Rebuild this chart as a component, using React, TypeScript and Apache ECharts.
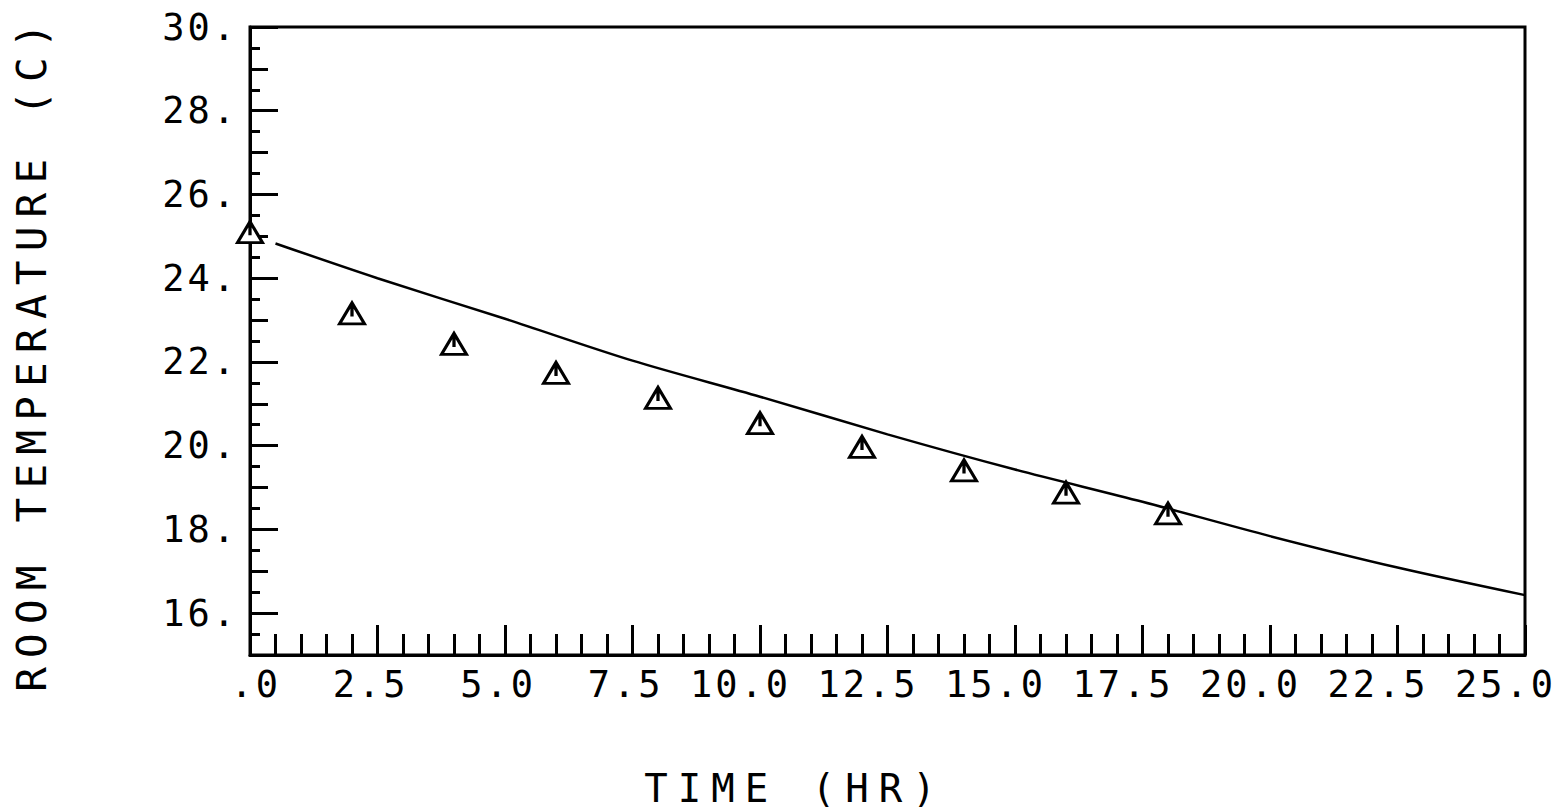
import React, { useEffect, useRef } from "react";
import * as echarts from "echarts";

// Observed data (triangles)
const obsTime = [0, 2, 4, 6, 8, 10, 12, 14, 16, 18];
const obsTemp = [25.1, 23.16, 22.43, 21.74, 21.14, 20.54, 19.97, 19.41, 18.88, 18.38];

// Model curve (solid line)
const fitTime = [0.5, 2.5, 5, 7.5, 10, 12.5, 15, 17.5, 20, 22.5, 25];
const fitTemp = [24.83, 24.0, 23.03, 22.03, 21.17, 20.27, 19.43, 18.66, 17.84, 17.09, 16.43];

const yMajorLabels = [16, 18, 20, 22, 24, 26, 28, 30];

const xTitle = "TIME (HR)";
const yTitle = "ROOM TEMPERATURE (C)";

const INK = "#000";
const FONT = "DejaVu Sans Mono";

export default function App() {
  const ref = useRef<HTMLDivElement>(null);

  useEffect(() => {
    if (!ref.current) return;
    const chart = echarts.init(ref.current, undefined, { renderer: "svg" });
    const triPath = "path://M0,20 L12,0 L24,20 Z M12,0 L12,13";
    chart.setOption({
      animation: false,
      backgroundColor: "#ffffff",
      grid: {
        left: 250,
        top: 27,
        right: 41,
        bottom: 157,
        show: true,
        borderColor: INK,
        borderWidth: 3,
        backgroundColor: "transparent",
      },
      xAxis: {
        type: "value",
        min: 0,
        max: 25,
        interval: 2.5,
        axisLine: { show: true, lineStyle: { color: INK, width: 3 } },
        axisTick: { show: true, inside: true, length: 30, lineStyle: { color: INK, width: 3 } },
        minorTick: { show: true, splitNumber: 5, length: 21, lineStyle: { color: INK, width: 3 } },
        splitLine: { show: false },
        minorSplitLine: { show: false },
        axisLabel: {
          show: true,
          color: INK,
          fontFamily: FONT,
          fontSize: 37,
          margin: 11,
          align: "right",
          padding: [0, -31, 0, 0],
          formatter: (v: number) => (v === 0 ? ".0" : v.toFixed(1)),
        },
      },
      yAxis: [
        {
          type: "value",
          position: "left",
          min: 15,
          max: 30,
          interval: 1,
          axisLine: { show: true, lineStyle: { color: INK, width: 3 } },
          axisTick: { show: true, inside: true, length: 18, lineStyle: { color: INK, width: 3 } },
          minorTick: { show: true, splitNumber: 2, length: 10, lineStyle: { color: INK, width: 3 } },
          splitLine: { show: false },
          minorSplitLine: { show: false },
          axisLabel: {
            show: true,
            color: INK,
            fontFamily: FONT,
            fontSize: 37,
            margin: 12,
            customValues: yMajorLabels,
            formatter: (v: number) => (v % 2 === 0 ? v + "." : ""),
          },
        },
        {
          type: "value",
          position: "left",
          min: 15,
          max: 30,
          interval: 1,
          axisLine: { show: false },
          axisLabel: { show: false },
          splitLine: { show: false },
          axisTick: {
            show: true,
            inside: true,
            length: 28,
            customValues: yMajorLabels,
            lineStyle: { color: INK, width: 3 },
          },
        },
      ],
      graphic: [
        {
          type: "text",
          x: 795,
          y: 788,
          style: {
            text: xTitle,
            fontFamily: FONT,
            fontSize: 39,
            fill: INK,
            textAlign: "center",
            textVerticalAlign: "middle",
          },
        },
        {
          type: "text",
          x: 32,
          y: 353,
          rotation: Math.PI / 2,
          style: {
            text: yTitle,
            fontFamily: FONT,
            fontSize: 41,
            fill: INK,
            textAlign: "center",
            textVerticalAlign: "middle",
          },
        },
      ],
      series: [
        {
          type: "line",
          data: fitTime.map((t, i) => [t, fitTemp[i]]),
          showSymbol: false,
          smooth: 0.3,
          lineStyle: { color: INK, width: 2.5 },
          z: 2,
        },
        {
          type: "scatter",
          data: obsTime.map((t, i) => [t, obsTemp[i]]),
          symbol: triPath,
          symbolSize: [25, 21],
          itemStyle: { color: "#ffffff", borderColor: INK, borderWidth: 3, opacity: 1 },
          z: 3,
        },
      ],
    });
    return () => chart.dispose();
  }, []);

  return (
    <>
      <style>{`
        .plotchart text[style*="37px"] { letter-spacing: 3px; }
        .plotchart text[style*="39px"] { letter-spacing: 10px; }
        .plotchart text[style*="41px"] { letter-spacing: 9.2px; }
      `}</style>
      <div
        ref={ref}
        className="plotchart"
        style={{ position: "fixed", left: 0, top: 0, width: 1566, height: 812, background: "#fff" }}
      />
    </>
  );
}
